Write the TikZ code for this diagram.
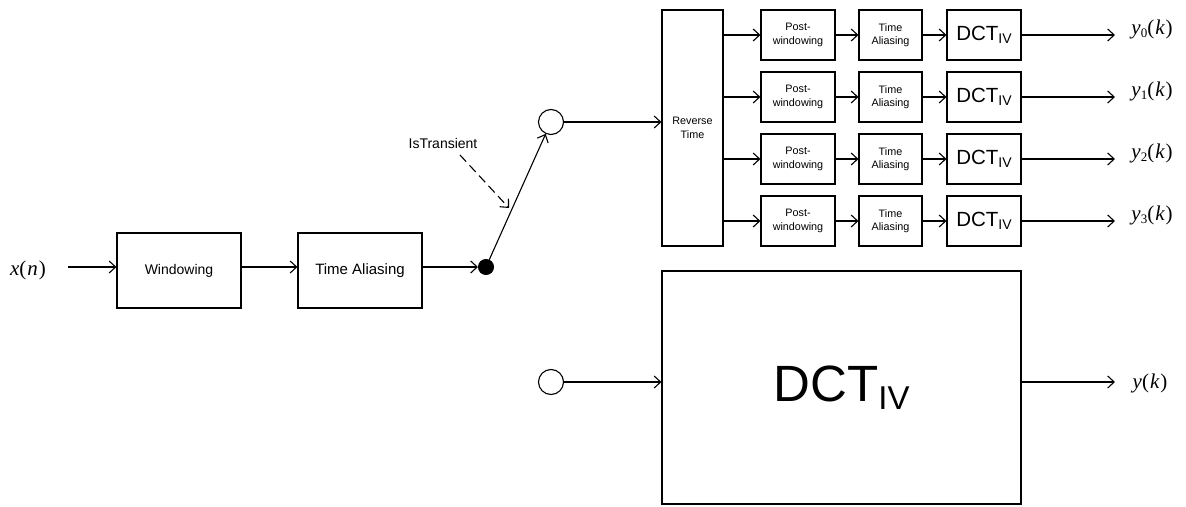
\documentclass[tikz,border=0pt]{standalone}
\usepackage{fontspec}
\setmainfont{Liberation Sans}
\newfontfamily\tms{Liberation Serif}
\usetikzlibrary{arrows.meta}

% signal label: italic name, optional upright subscript, italic argument
\newcommand\siglabel[3]{{\tms\itshape #1}\raisebox{-3.5pt}{\tms\fontsize{13}{13}\selectfont #2}{\tms(\kern1pt{\itshape #3}\kern1pt)}}
\newcommand\dctsmall{DCT\raisebox{-2.5pt}{\fontsize{14}{14}\selectfont IV}}
\newcommand\dctlarge{DCT\raisebox{-8pt}{\fontsize{33}{33}\selectfont IV}}

\tikzset{
  blk/.style={draw, line width=1.1pt, inner sep=0pt, align=center},
  arr/.style={line width=1.1pt, -{Straight Barb[length=6.5pt,width=12pt,line width=1.1pt]}},
  smalltxt/.style={font=\fontsize{10.8}{13.5}\selectfont},
  sig/.style={font=\fontsize{21}{24}\selectfont, inner sep=0pt},
}

\begin{document}
\begin{tikzpicture}[x=1pt,y=-1pt]
  \useasboundingbox (0,0) rectangle (1186,506);

  % front end: windowing and time aliasing
  \node[sig] (xn) at (28,270) {\siglabel{x}{}{n}};
  \coordinate (xin) at (68,267);
  \node[blk, minimum width=124, minimum height=75, font=\fontsize{14}{17}\selectfont] (win) at (179,270.5) {Windowing};
  \node[blk, minimum width=124, minimum height=75, font=\fontsize{15}{18}\selectfont] (ta) at (360,270.5) {Time Aliasing};
  \node[circle, fill=black, draw, line width=1pt, minimum size=15, inner sep=0pt] (dot) at (486,267) {};

  \draw[arr] (xin) -- (win.west |- xin);
  \draw[arr] (win.east |- xin) -- (ta.west |- xin);
  \draw[arr] (ta.east |- dot) -- (dot.west);

  % switch positions
  \node[circle, draw, line width=1.1pt, minimum size=25, inner sep=0pt] (ctop) at (551,122) {};
  \node[circle, draw, line width=1.1pt, minimum size=25, inner sep=0pt] (cbot) at (551,382) {};
  \draw[arr] (dot) -- (ctop);

  % transient control
  \node[font=\fontsize{14}{17}\selectfont, inner sep=0pt] (ist) at (443,143) {IsTransient};
  \coordinate (istA) at (460,155);
  \coordinate (istB) at (509,208);
  \draw[arr, dash pattern=on 9pt off 5pt] (istA) -- (istB);

  % transient branch: reverse time, then four short transforms
  \node[blk, smalltxt, minimum width=61, minimum height=236] (rev) at (692.5,128) {Reverse\\Time};
  \draw[arr] (ctop) -- (rev.west |- ctop);

  \foreach \i/\r in {0/35, 1/97, 2/159, 3/221} {
    \node[blk, smalltxt, minimum width=74, minimum height=50] (post\i) at (798,\r) {Post-\\windowing};
    \node[blk, smalltxt, minimum width=63, minimum height=50] (tal\i) at (890.5,\r) {Time\\Aliasing};
    \node[blk, minimum width=74, minimum height=50, font=\fontsize{20.5}{24}\selectfont] (dct\i) at (984,\r) {\dctsmall};
    \coordinate (out\i) at (1115,\r);
    \node[sig] (y\i) at (1152,\r-6) {\siglabel{y}{\i}{k}};
    \draw[arr] (rev.east |- post\i) -- (post\i.west);
    \draw[arr] (post\i) -- (tal\i);
    \draw[arr] (tal\i) -- (dct\i);
    \draw[arr] (dct\i) -- (out\i);
  }

  % stationary branch: one long transform
  \node[blk, minimum width=359, minimum height=233, font=\fontsize{51}{60}\selectfont] (big) at (841.5,387.5) {\dctlarge};
  \coordinate (outb) at (1115,382);
  \node[sig] (yk) at (1150,383) {\siglabel{y}{}{k}};
  \draw[arr] (cbot) -- (big.west |- cbot);
  \draw[arr] (big.east |- outb) -- (outb);
\end{tikzpicture}
\end{document}
